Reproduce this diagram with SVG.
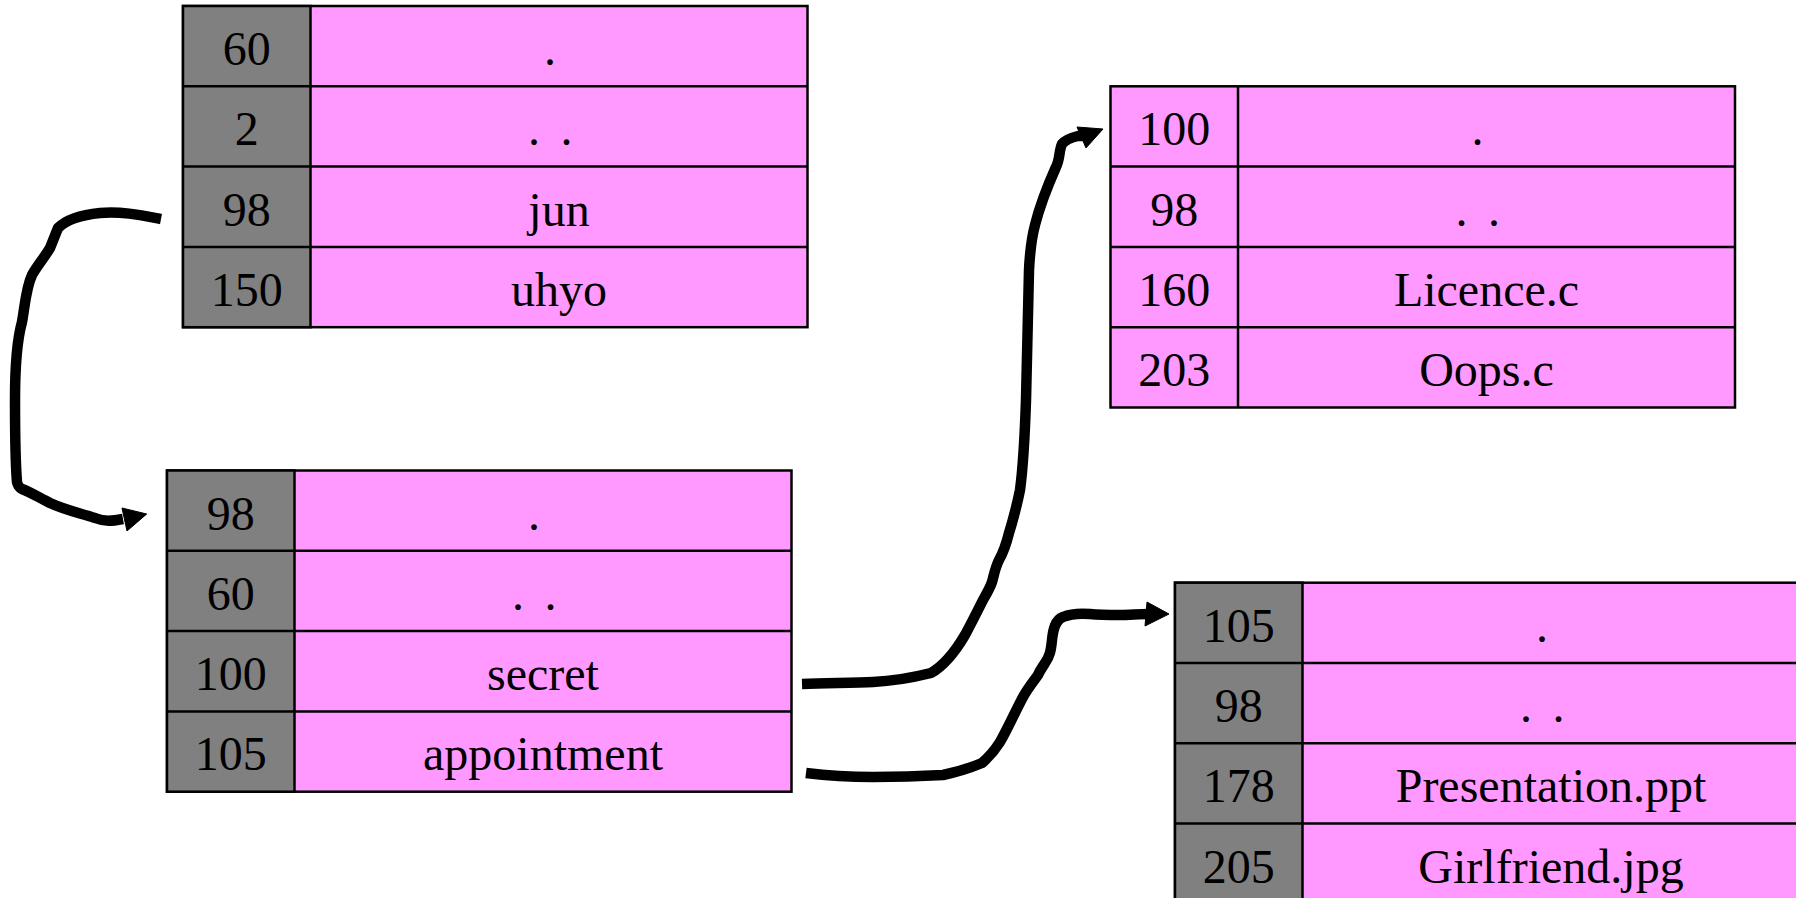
<svg xmlns="http://www.w3.org/2000/svg" width="1796" height="898" viewBox="0 0 1796 898">
  <style>
    .cell { fill: #ff99ff; stroke: #000; stroke-width: 2.5; }
    .inode { fill: #808080; stroke: #000; stroke-width: 2.5; }
    .rule { stroke: #000; stroke-width: 2.5; }
    .t { font-family: "Liberation Serif", "Times New Roman", serif; font-size: 48px; fill: #000; text-anchor: middle; }
    .wire { fill: none; stroke: #000; stroke-width: 10.5; stroke-linejoin: round; stroke-linecap: butt; }
    .head { fill: #000; stroke: #000; stroke-width: 1; stroke-linejoin: miter; }
  </style>

  <!-- directory table: / -->
  <g id="dir-root" transform="translate(183,6)">
    <rect class="cell" x="0" y="0" width="624.5" height="321.2"/>
    <rect class="inode" x="0" y="0" width="127.5" height="321.2"/>
    <line class="rule" x1="0" y1="80.3" x2="624.5" y2="80.3"/>
    <line class="rule" x1="0" y1="160.6" x2="624.5" y2="160.6"/>
    <line class="rule" x1="0" y1="240.9" x2="624.5" y2="240.9"/>
    <text class="t" x="63.75" y="59">60</text>
    <text class="t" x="367" y="59">.</text>
    <text class="t" x="63.75" y="139.3">2</text>
    <text class="t" x="351 383.5" y="139.3">..</text>
    <text class="t" x="63.75" y="219.6">98</text>
    <text class="t" x="376" y="219.6">jun</text>
    <text class="t" x="63.75" y="299.9">150</text>
    <text class="t" x="376" y="299.9">uhyo</text>
  </g>

  <!-- directory table: jun -->
  <g id="dir-jun" transform="translate(167,470.5)">
    <rect class="cell" x="0" y="0" width="624.5" height="321.2"/>
    <rect class="inode" x="0" y="0" width="127.5" height="321.2"/>
    <line class="rule" x1="0" y1="80.3" x2="624.5" y2="80.3"/>
    <line class="rule" x1="0" y1="160.6" x2="624.5" y2="160.6"/>
    <line class="rule" x1="0" y1="240.9" x2="624.5" y2="240.9"/>
    <text class="t" x="63.75" y="59">98</text>
    <text class="t" x="367" y="59">.</text>
    <text class="t" x="63.75" y="139.3">60</text>
    <text class="t" x="351 383.5" y="139.3">..</text>
    <text class="t" x="63.75" y="219.6">100</text>
    <text class="t" x="376" y="219.6">secret</text>
    <text class="t" x="63.75" y="299.9">105</text>
    <text class="t" x="376" y="299.9">appointment</text>
  </g>

  <!-- directory table: secret -->
  <g id="dir-secret" transform="translate(1110.5,86.3)">
    <rect class="cell" x="0" y="0" width="624.5" height="321.2"/>
    <line class="rule" x1="127.5" y1="0" x2="127.5" y2="321.2"/>
    <line class="rule" x1="0" y1="80.3" x2="624.5" y2="80.3"/>
    <line class="rule" x1="0" y1="160.6" x2="624.5" y2="160.6"/>
    <line class="rule" x1="0" y1="240.9" x2="624.5" y2="240.9"/>
    <text class="t" x="63.75" y="59">100</text>
    <text class="t" x="367" y="59">.</text>
    <text class="t" x="63.75" y="139.3">98</text>
    <text class="t" x="351 383.5" y="139.3">..</text>
    <text class="t" x="63.75" y="219.6">160</text>
    <text class="t" x="376" y="219.6">Licence.c</text>
    <text class="t" x="63.75" y="299.9">203</text>
    <text class="t" x="376" y="299.9">Oops.c</text>
  </g>

  <!-- directory table: appointment -->
  <g id="dir-appointment" transform="translate(1175,582.7)">
    <rect class="cell" x="0" y="0" width="624.5" height="321.2"/>
    <rect class="inode" x="0" y="0" width="127.5" height="321.2"/>
    <line class="rule" x1="0" y1="80.3" x2="624.5" y2="80.3"/>
    <line class="rule" x1="0" y1="160.6" x2="624.5" y2="160.6"/>
    <line class="rule" x1="0" y1="240.9" x2="624.5" y2="240.9"/>
    <text class="t" x="63.75" y="59">105</text>
    <text class="t" x="367" y="59">.</text>
    <text class="t" x="63.75" y="139.3">98</text>
    <text class="t" x="351 383.5" y="139.3">..</text>
    <text class="t" x="63.75" y="219.6">178</text>
    <text class="t" x="376" y="219.6">Presentation.ppt</text>
    <text class="t" x="63.75" y="299.9">205</text>
    <text class="t" x="376" y="299.9">Girlfriend.jpg</text>
  </g>

  <!-- hand-drawn links between entries and tables -->
  <g id="connectors">
    <path class="wire" d="M161,219 C140,215 120,211 100,213 C80,215 66,220 58,228 L50,248 C44,258 37,266 32,275 C26,288 25,305 22,322 C17,340 15,365 15,400 C15,440 16,470 17,482 C18,487 20,488 22,489 C30,492 40,498 50,503 C65,510 80,513 95,518 C105,522 112,521 123,519"/>
    <polygon class="head" points="146.7,514 122,508 127,531"/>

    <path class="wire" d="M802,684 C830,683 855,683 873,682 C895,681 915,677 931,673 C945,665 955,652 965,635 C972,622 978,610 983,600 C987,593 990,588 992,582 C994,575 995,568 999,560 C1003,553 1006,545 1009,533 C1013,520 1017,505 1020,490 C1024,460 1025,430 1026,400 C1027,350 1028,300 1029,270 C1030,250 1031,240 1035,225 C1040,205 1048,185 1056,167 C1060,160 1059,150 1062,144 C1065,140 1070,138 1078,136 L1083,136"/>
    <polygon class="head" points="1103,129 1077,127 1086,148"/>

    <path class="wire" d="M806,773 C830,776 850,777 873,777 C900,777 925,776 943,775 C958,772 970,768 982,763 C990,756 995,750 1000,742 C1008,728 1015,712 1023,697 C1028,688 1033,682 1038,675 C1040,670 1042,668 1045,663 C1050,656 1051,650 1052,640 C1053,630 1055,620 1063,617 C1070,614 1078,613 1090,614 C1100,615 1110,615 1120,615 C1130,615 1138,614 1148,614"/>
    <polygon class="head" points="1169,614 1147,602 1145,626"/>
  </g>
</svg>
